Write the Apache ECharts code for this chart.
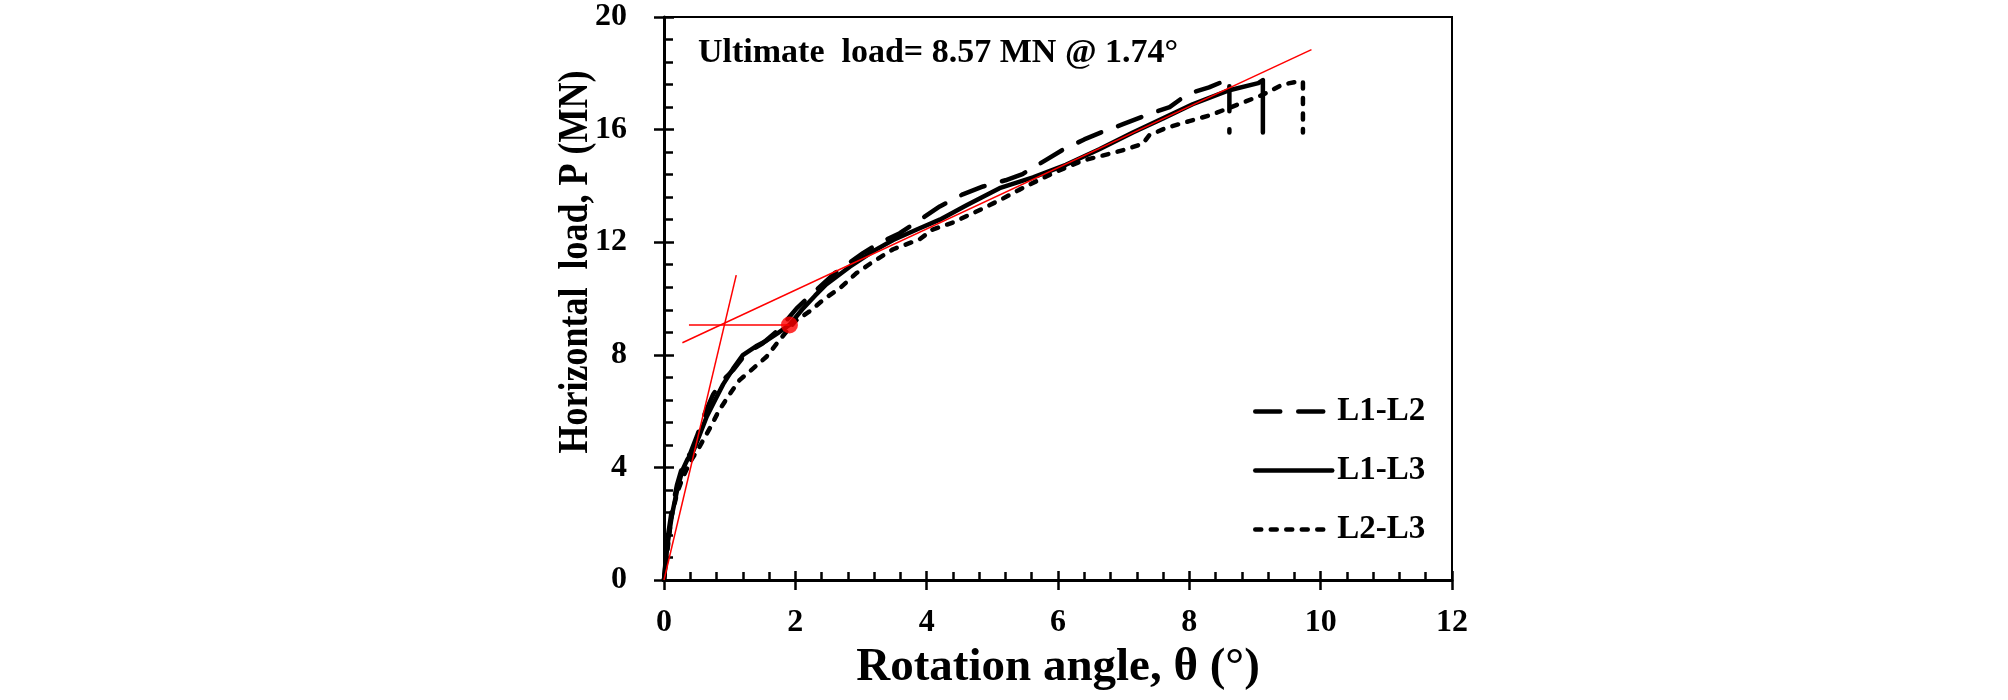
<!DOCTYPE html>
<html>
<head>
<meta charset="utf-8">
<script src="https://cdn.jsdelivr.net/npm/echarts@6/dist/echarts.min.js"></script>
<style>
html,body{margin:0;padding:0;background:#fff;}
#chart{width:2008px;height:700px;}
</style>
</head>
<body>
<div id="chart"></div>
<script>
// ---- data ----
const seriesNames = ['L1-L2', 'L1-L3', 'L2-L3'];

const L1L2 = [[0,0],[0.05,1.4],[0.12,2.5],[0.2,3.4],[0.3,4.2],[0.4,4.5],[0.5,5.1],[0.62,5.9],[0.75,6.6],[0.9,7.1],[1.05,7.45],[1.25,8.05],[1.5,8.4],[1.75,8.9],[2.02,9.65],[2.32,10.3],[2.6,10.9],[3.03,11.61],[3.3,12.0],[3.59,12.32],[3.9,12.8],[4.2,13.27],[4.55,13.7],[4.86,13.98],[5.2,14.2],[5.46,14.42],[5.8,14.9],[6.07,15.28],[6.4,15.65],[6.7,15.94],[7.0,16.2],[7.36,16.53],[7.7,16.8],[7.98,17.27],[8.3,17.5],[8.61,17.8],[8.61,15.9]];

const L1L3 = [[0,0],[0.05,1.2],[0.12,2.3],[0.2,3.2],[0.28,3.9],[0.36,4.3],[0.45,4.6],[0.55,5.2],[0.65,5.8],[0.78,6.4],[0.9,6.95],[1.05,7.5],[1.2,7.99],[1.4,8.3],[1.56,8.5],[1.75,8.8],[1.91,9.06],[2.1,9.6],[2.3,10.1],[2.47,10.5],[2.83,11.13],[3.2,11.7],[3.49,12.08],[3.85,12.45],[4.2,12.8],[4.6,13.3],[5.11,13.92],[5.62,14.3],[6.12,14.75],[6.63,15.3],[7.14,15.9],[7.6,16.4],[8.05,16.9],[8.61,17.4],[9.05,17.65],[9.12,17.76],[9.12,15.9]];

const L2L3 = [[0,0],[0.05,1.0],[0.11,2.2],[0.2,3.1],[0.29,3.66],[0.4,4.2],[0.54,4.73],[0.7,5.4],[0.84,6.03],[1.0,6.6],[1.15,7.1],[1.35,7.5],[1.56,7.93],[1.75,8.5],[2.0,9.2],[2.21,9.53],[2.45,10.0],[2.67,10.35],[2.93,10.9],[3.18,11.3],[3.49,11.75],[3.89,12.1],[4.09,12.45],[4.4,12.7],[4.86,13.2],[5.16,13.55],[5.4,13.85],[5.7,14.2],[5.97,14.5],[6.38,14.9],[6.8,15.15],[7.04,15.3],[7.29,15.5],[7.39,15.8],[7.65,16.06],[8.0,16.3],[8.3,16.5],[8.61,16.77],[9.12,17.24],[9.42,17.6],[9.68,17.72],[9.73,17.7],[9.73,15.9]];

// red construction lines and ultimate point
const tangentInitial = [[0,0],[1.1,10.83]];
const tangentFinal = [[0.28,8.43],[9.86,18.84]];
const ultimateLevel = [[0.38,9.06],[1.91,9.06]];
const ultimatePoint = [[1.91,9.06]];

// axes
const xMin = 0, xMax = 12, xStep = 2;
const yMin = 0, yMax = 20, yStep = 4;
const xTitle = 'Rotation angle, θ (°)';
const yTitle = 'Horizontal  load, P (MN)';
const annotation = 'Ultimate  load= 8.57 MN @ 1.74°';

// ---- chart ----
const FONT = "'Liberation Serif', 'Times New Roman', serif";
const chart = echarts.init(document.getElementById('chart'));

const baseX = {
  type: 'value', min: xMin, max: xMax, interval: xStep,
  splitLine: {show: false}
};
const baseY = {
  type: 'value', min: yMin, max: yMax, interval: yStep,
  splitLine: {show: false}
};

const black = (name, data, dash) => ({
  name, type: 'line', data, showSymbol: false, symbol: 'none',
  smooth: false, z: 3,
  lineStyle: {color: '#000', width: 4.5, type: dash, cap: 'round', join: 'round'},
  itemStyle: {color: '#000'}
});
const red = (data) => ({
  type: 'line', data, showSymbol: false, symbol: 'none', z: 4,
  lineStyle: {color: '#ff0000', width: 1.5}, silent: true
});

chart.setOption({
  backgroundColor: '#fff',
  animation: false,
  grid: {left: 664, right: 556, top: 17, bottom: 120, show: true,
         borderColor: '#000', borderWidth: 2, outerBoundsMode: 'none'},
  xAxis: [
    Object.assign({}, baseX, {
      position: 'bottom',
      axisLine: {show: true, onZero: false, lineStyle: {color: '#000', width: 3}},
      axisTick: {show: true, inside: true, length: 9, lineStyle: {color: '#000', width: 2.5}},
      minorTick: {show: true, splitNumber: 5, length: 8, lineStyle: {color: '#000', width: 2.5}},
      axisLabel: {margin: 27, color: '#000', fontFamily: FONT, fontWeight: 'bold', fontSize: 32},
      name: xTitle, nameLocation: 'middle', nameGap: 63,
      nameTextStyle: {color: '#000', fontFamily: FONT, fontWeight: 'bold', fontSize: 47}
    }),
    Object.assign({}, baseX, {
      position: 'bottom', offset: 0,
      axisLine: {show: false, onZero: false},
      axisTick: {show: true, inside: false, length: 10, lineStyle: {color: '#000', width: 2.5}},
      axisLabel: {show: false}
    })
  ],
  yAxis: [
    Object.assign({}, baseY, {
      position: 'left',
      axisLine: {show: true, onZero: false, lineStyle: {color: '#000', width: 3}},
      axisTick: {show: true, inside: true, length: 10, lineStyle: {color: '#000', width: 2.5}},
      minorTick: {show: true, splitNumber: 5, length: 9, lineStyle: {color: '#000', width: 2.5}},
      axisLabel: {margin: 37, color: '#000', fontFamily: FONT, fontWeight: 'bold', fontSize: 32}
    }),
    Object.assign({}, baseY, {
      position: 'left', offset: 0,
      axisLine: {show: false, onZero: false},
      axisTick: {show: true, inside: false, length: 10, lineStyle: {color: '#000', width: 2.5}},
      axisLabel: {show: false}
    })
  ],
  legend: {
    orient: 'vertical', left: 1248, top: 390,
    data: seriesNames,
    itemWidth: 77, itemHeight: 14, itemGap: 26,
    itemStyle: {opacity: 0},
    lineStyle: {width: 4.5},
    textStyle: {color: '#000', fontFamily: FONT, fontWeight: 'bold', fontSize: 33}
  },
  graphic: [
    {type: 'text', left: 698, top: 36, z: 10,
     style: {text: annotation, fill: '#000', font: "bold 34px 'Liberation Serif', serif"}},
    {type: 'text', x: 576, y: 262, rotation: Math.PI / 2, scaleY: 1.15, z: 10,
     style: {text: yTitle, fill: '#000', font: "bold 36px 'Liberation Serif', serif",
             align: 'center', verticalAlign: 'middle'}}
  ],
  series: [
    black(seriesNames[2], L2L3, [6, 9.5]),
    black(seriesNames[1], L1L3, 'solid'),
    black(seriesNames[0], L1L2, [25, 18]),
    red(tangentInitial),
    red(tangentFinal),
    red(ultimateLevel),
    {type: 'scatter', data: ultimatePoint, symbol: 'circle', symbolSize: 17, z: 5,
     itemStyle: {color: '#ff0000'}, silent: true}
  ]
});
</script>
</body>
</html>
